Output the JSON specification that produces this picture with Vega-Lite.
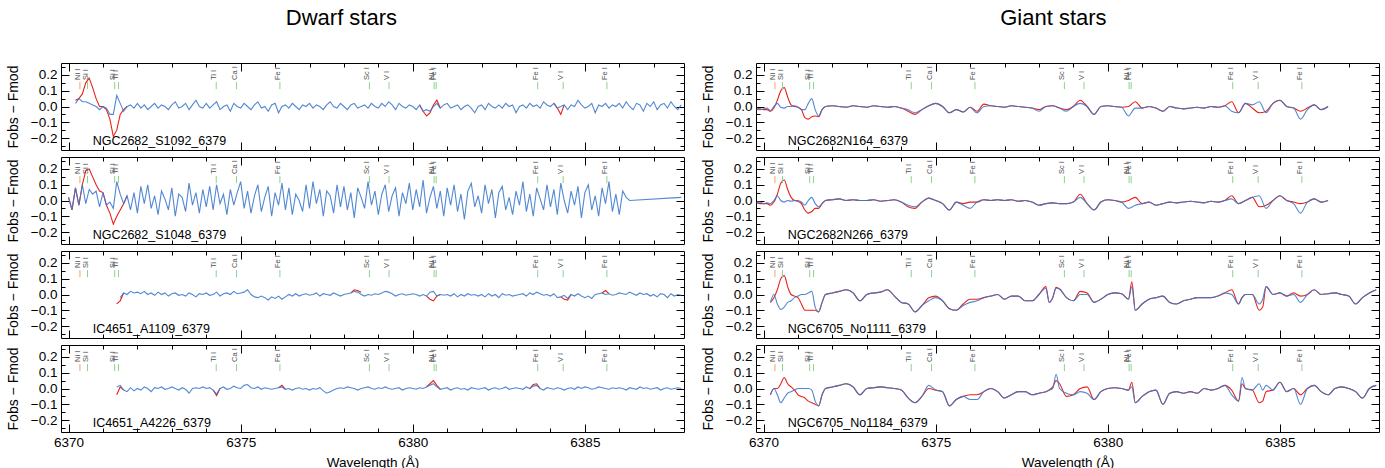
{
"$schema": "https://vega.github.io/schema/vega-lite/v6.json",
"padding": {"left": 5, "top": 6, "right": 5, "bottom": 2},
"datasets": {
"lines": [{"w":6370.33,"e":"Ni I","k":"o"},{"w":6370.55,"e":"Si I","k":"g"},{"w":6371.34,"e":"Si I","k":"g"},{"w":6371.45,"e":"Ti I","k":"g"},{"w":6374.29,"e":"Ti I","k":"g"},{"w":6374.88,"e":"Ca I","k":"g"},{"w":6376.14,"e":"Fe I","k":"g"},{"w":6378.74,"e":"Sc I","k":"g"},{"w":6379.31,"e":"V I","k":"g"},{"w":6380.62,"e":"Ni I","k":"g"},{"w":6380.68,"e":"Fe I","k":"g"},{"w":6383.63,"e":"Fe I","k":"g"},{"w":6384.37,"e":"V I","k":"g"},{"w":6385.64,"e":"Fe I","k":"g"}],
"spec": [
{"p":"D1","c":"r","s":1,"w":[6370.2,6370.3,6370.4,6370.5,6370.6,6370.7,6370.8,6370.9,6371,6371.1,6371.2,6371.3,6371.4,6371.5,6371.6,6371.7],"v":[0.04,0.05,0.08,0.15,0.18,0.12,0.05,0.0,0.0,-0.02,-0.08,-0.19,-0.15,-0.05,-0.02,0.0]},
{"p":"D1","c":"r","s":2,"w":[6380.2,6380.3,6380.4,6380.5,6380.6,6380.7,6380.8],"v":[0.01,-0.03,-0.06,-0.04,0.01,0.04,-0.01]},
{"p":"D1","c":"r","s":3,"w":[6384.1,6384.2,6384.3,6384.4],"v":[0.02,-0.01,-0.05,0.01]},
{"p":"D1","c":"b","s":0,
"w":[6370.2,6370.3,6370.4,6370.5,6370.6,6370.7,6370.8,6370.9,
6371,6371.1,6371.2,6371.3,6371.4,6371.5,6371.6,6371.7,6371.8,6371.9,
6372,6372.1,6372.2,6372.3,6372.4,6372.5,6372.6,6372.7,6372.8,6372.9,
6373,6373.1,6373.2,6373.3,6373.4,6373.5,6373.6,6373.7,6373.8,6373.9,
6374,6374.1,6374.2,6374.3,6374.4,6374.5,6374.6,6374.7,6374.8,6374.9,
6375,6375.1,6375.2,6375.3,6375.4,6375.5,6375.6,6375.7,6375.8,6375.9,
6376,6376.1,6376.2,6376.3,6376.4,6376.5,6376.6,6376.7,6376.8,6376.9,
6377,6377.1,6377.2,6377.3,6377.4,6377.5,6377.6,6377.7,6377.8,6377.9,
6378,6378.1,6378.2,6378.3,6378.4,6378.5,6378.6,6378.7,6378.8,6378.9,
6379,6379.1,6379.2,6379.3,6379.4,6379.5,6379.6,6379.7,6379.8,6379.9,
6380,6380.1,6380.2,6380.3,6380.4,6380.5,6380.6,6380.7,6380.8,6380.9,
6381,6381.1,6381.2,6381.3,6381.4,6381.5,6381.6,6381.7,6381.8,6381.9,
6382,6382.1,6382.2,6382.3,6382.4,6382.5,6382.6,6382.7,6382.8,6382.9,
6383,6383.1,6383.2,6383.3,6383.4,6383.5,6383.6,6383.7,6383.8,6383.9,
6384,6384.1,6384.2,6384.3,6384.4,6384.5,6384.6,6384.7,6384.8,6384.9,
6385,6385.1,6385.2,6385.3,6385.4,6385.5,6385.6,6385.7,6385.8,6385.9,
6386,6386.1,6386.2,6386.3,6386.4,6386.5,6386.6,6386.7,6386.8,6386.9,
6387,6387.1,6387.2,6387.3,6387.4,6387.5,6387.6,6387.7,6387.8],
"v":[0.02,0.05,0.03,0.03,0.02,0.01,0.0,-0.02,
0.0,-0.01,-0.05,-0.05,0.07,0.02,-0.03,0.0,0.01,-0.01,
0.02,-0.01,0.01,-0.02,0.0,0.02,-0.01,0.01,0.0,-0.02,
0.01,0.03,-0.01,0.0,0.02,-0.02,0.01,0.04,0.0,-0.01,
0.02,-0.01,0.01,0.03,-0.02,0.0,0.01,-0.03,0.02,0.0,
-0.01,0.02,0.0,-0.02,0.01,0.03,-0.01,0.0,-0.03,0.01,
0.02,-0.04,0.0,0.01,-0.01,0.02,0.0,-0.02,0.01,0.0,
0.02,-0.01,0.01,0.0,-0.02,0.01,0.03,0.0,-0.01,0.02,
0.0,-0.02,0.01,0.02,-0.01,0.0,0.01,-0.01,0.02,0.0,
-0.01,0.02,0.0,0.03,0.01,-0.02,0.02,0.0,-0.01,0.01,
0.0,-0.02,0.01,-0.03,-0.02,-0.03,0.0,0.02,-0.01,0.01,
0.02,-0.01,0.0,0.01,-0.02,0.0,0.01,-0.01,-0.04,0.0,
0.01,-0.02,0.02,0.0,-0.01,0.01,-0.01,0.02,0.0,0.01,
-0.04,0.0,0.01,-0.01,0.02,0.0,0.01,-0.01,0.03,0.01,
0.0,0.02,-0.01,0.0,0.01,-0.02,0.01,0.0,0.04,0.01,
-0.01,0.0,0.02,-0.04,0.01,0.0,0.02,-0.01,0.01,0.0,
0.02,-0.01,0.03,0.0,-0.02,0.02,0.01,-0.03,0.02,0.0,
0.03,-0.02,0.01,0.02,-0.01,0.03,0.0,-0.02,0.01]},
{"p":"D2","c":"r","s":1,"w":[6370,6370.1,6370.2,6370.3,6370.4,6370.5,6370.6,6370.7,6370.8,6370.9,6371,6371.1,6371.2,6371.3,6371.4,6371.5,6371.6,6371.7],"v":[0.02,-0.06,0.08,-0.03,0.1,0.19,0.2,0.15,0.1,0.06,0.05,-0.03,-0.08,-0.15,-0.1,-0.06,-0.02,0.03]},
{"p":"D2","c":"b","s":0,
"w":[6370,6370.1,6370.2,6370.3,6370.4,6370.5,6370.6,6370.7,6370.8,6370.9,
6371,6371.1,6371.2,6371.3,6371.4,6371.5,6371.6,6371.7,6371.8,6371.9,
6372,6372.1,6372.2,6372.3,6372.4,6372.5,6372.6,6372.7,6372.8,6372.9,
6373,6373.1,6373.2,6373.3,6373.4,6373.5,6373.6,6373.7,6373.8,6373.9,
6374,6374.1,6374.2,6374.3,6374.4,6374.5,6374.6,6374.7,6374.8,6374.9,
6375,6375.1,6375.2,6375.3,6375.4,6375.5,6375.6,6375.7,6375.8,6375.9,
6376,6376.1,6376.2,6376.3,6376.4,6376.5,6376.6,6376.7,6376.8,6376.9,
6377,6377.1,6377.2,6377.3,6377.4,6377.5,6377.6,6377.7,6377.8,6377.9,
6378,6378.1,6378.2,6378.3,6378.4,6378.5,6378.6,6378.7,6378.8,6378.9,
6379,6379.1,6379.2,6379.3,6379.4,6379.5,6379.6,6379.7,6379.8,6379.9,
6380,6380.1,6380.2,6380.3,6380.4,6380.5,6380.6,6380.7,6380.8,6380.9,
6381,6381.1,6381.2,6381.3,6381.4,6381.5,6381.6,6381.7,6381.8,6381.9,
6382,6382.1,6382.2,6382.3,6382.4,6382.5,6382.6,6382.7,6382.8,6382.9,
6383,6383.1,6383.2,6383.3,6383.4,6383.5,6383.6,6383.7,6383.8,6383.9,
6384,6384.1,6384.2,6384.3,6384.4,6384.5,6384.6,6384.7,6384.8,6384.9,
6385,6385.1,6385.2,6385.3,6385.4,6385.5,6385.6,6385.7,6385.8,6385.9,
6386,6386.1,6386.2,6386.3,6387.8],
"v":[0.02,-0.06,0.08,-0.03,0.1,-0.02,0.07,0.04,0.06,-0.04,
0.05,-0.03,-0.01,-0.05,0.12,0.04,-0.02,0.03,-0.06,0.05,
-0.08,0.09,-0.02,0.1,-0.05,0.03,-0.09,0.06,0.01,-0.06,
0.08,-0.1,0.04,0.02,-0.07,0.11,-0.03,0.05,-0.08,0.07,
-0.04,0.09,-0.06,0.1,-0.02,0.04,-0.09,0.07,-0.03,0.05,
0.12,-0.05,0.06,-0.08,0.03,0.1,-0.07,0.02,0.09,-0.1,
0.05,-0.03,0.11,-0.06,0.08,-0.09,0.04,0.0,-0.07,0.1,
-0.05,0.12,-0.02,0.07,-0.1,0.06,0.03,-0.08,0.1,-0.04,
0.09,-0.06,0.05,-0.11,0.08,0.02,-0.05,0.12,-0.03,0.06,
-0.09,0.04,0.1,-0.07,0.03,0.08,-0.1,0.05,-0.02,0.11,
-0.06,0.07,-0.04,0.13,-0.08,0.02,0.09,-0.05,0.06,-0.1,
0.08,-0.03,0.1,-0.07,0.04,-0.12,0.06,0.11,-0.04,0.03,
-0.08,0.1,-0.02,0.07,-0.11,0.05,0.09,-0.06,0.02,-0.09,
0.06,-0.03,0.12,-0.07,0.04,-0.1,0.08,0.01,-0.06,0.1,
-0.04,0.07,-0.09,0.11,0.0,-0.08,0.06,-0.03,0.09,-0.11,
0.05,0.1,-0.06,0.03,-0.1,0.08,-0.02,0.12,-0.07,0.04,
-0.09,0.06,0.02,0.0,0.02]},
{"p":"D3","c":"r","s":1,"w":[6371.4,6371.5,6371.6],"v":[-0.06,-0.04,0.01]},
{"p":"D3","c":"r","s":2,"w":[6378.2,6378.3,6378.4,6378.5],"v":[0.01,0.03,0.025,0.015]},
{"p":"D3","c":"r","s":3,"w":[6380.4,6380.5,6380.6,6380.7,6380.8],"v":[-0.01,-0.03,-0.04,-0.01,0.0]},
{"p":"D3","c":"r","s":4,"w":[6384.3,6384.4,6384.5,6384.6],"v":[-0.015,-0.03,-0.035,0.0]},
{"p":"D3","c":"r","s":5,"w":[6385.5,6385.6,6385.7],"v":[0.01,0.025,0.005]},
{"p":"D3","c":"b","s":0,
"w":[6371.5,6371.6,6371.7,6371.8,6371.9,
6372,6372.1,6372.2,6372.3,6372.4,6372.5,6372.6,6372.7,6372.8,6372.9,
6373,6373.1,6373.2,6373.3,6373.4,6373.5,6373.6,6373.7,6373.8,6373.9,
6374,6374.1,6374.2,6374.3,6374.4,6374.5,6374.6,6374.7,6374.8,6374.9,
6375,6375.1,6375.2,6375.3,6375.4,6375.5,6375.6,6375.7,6375.8,6375.9,
6376,6376.1,6376.2,6376.3,6376.4,6376.5,6376.6,6376.7,6376.8,6376.9,
6377,6377.1,6377.2,6377.3,6377.4,6377.5,6377.6,6377.7,6377.8,6377.9,
6378,6378.1,6378.2,6378.3,6378.4,6378.5,6378.6,6378.7,6378.8,6378.9,
6379,6379.1,6379.2,6379.3,6379.4,6379.5,6379.6,6379.7,6379.8,6379.9,
6380,6380.1,6380.2,6380.3,6380.4,6380.5,6380.6,6380.7,6380.8,6380.9,
6381,6381.1,6381.2,6381.3,6381.4,6381.5,6381.6,6381.7,6381.8,6381.9,
6382,6382.1,6382.2,6382.3,6382.4,6382.5,6382.6,6382.7,6382.8,6382.9,
6383,6383.1,6383.2,6383.3,6383.4,6383.5,6383.6,6383.7,6383.8,6383.9,
6384,6384.1,6384.2,6384.3,6384.4,6384.5,6384.6,6384.7,6384.8,6384.9,
6385,6385.1,6385.2,6385.3,6385.4,6385.5,6385.6,6385.7,6385.8,6385.9,
6386,6386.1,6386.2,6386.3,6386.4,6386.5,6386.6,6386.7,6386.8,6386.9,
6387,6387.1,6387.2,6387.3,6387.4,6387.5,6387.6,6387.7,6387.8],
"v":[-0.02,0.01,0.0,0.02,0.01,
0.015,0.005,0.02,0.0,0.01,-0.005,0.015,0.0,0.01,-0.01,
0.005,0.01,-0.005,0.0,-0.01,0.01,0.0,-0.015,0.005,0.0,
0.01,-0.005,0.0,0.015,-0.01,0.005,0.01,0.0,0.02,0.005,
0.01,0.015,0.03,0.0,-0.015,-0.02,-0.01,-0.02,-0.035,-0.015,
-0.025,-0.01,-0.03,-0.015,0.0,-0.01,0.005,-0.01,0.0,0.005,
-0.005,0.0,0.01,-0.01,0.005,0.0,-0.005,0.01,0.0,-0.01,
0.0,0.005,0.01,0.02,0.015,0.0,-0.01,0.0,-0.005,0.005,
0.0,0.01,0.02,0.015,0.005,-0.01,0.0,0.005,-0.005,0.0,
0.005,0.0,-0.01,0.0,-0.01,0.015,0.02,-0.01,0.0,-0.005,
0.0,-0.01,0.005,-0.015,0.0,-0.01,0.005,-0.005,0.0,-0.01,
0.0,-0.015,0.005,-0.01,0.0,-0.02,0.005,-0.005,0.0,-0.01,
-0.005,0.0,0.005,-0.01,0.01,0.0,0.015,0.005,-0.005,0.0,
-0.01,0.005,-0.02,-0.015,-0.005,-0.025,0.0,-0.01,0.005,-0.01,
-0.02,-0.01,-0.025,0.0,0.005,0.01,0.0,0.005,-0.005,0.0,
0.01,0.005,0.0,0.015,0.005,-0.005,0.01,0.0,0.005,-0.01,
0.0,-0.015,0.005,0.0,-0.02,0.005,-0.01,0.0,-0.005]},
{"p":"D4","c":"r","s":1,"w":[6371.4,6371.5,6371.6],"v":[-0.04,0.01,-0.01]},
{"p":"D4","c":"r","s":2,"w":[6374.2,6374.3,6374.4],"v":[-0.01,-0.045,0.0]},
{"p":"D4","c":"r","s":3,"w":[6376.1,6376.2,6376.3],"v":[0.005,0.02,-0.005]},
{"p":"D4","c":"r","s":4,"w":[6380.4,6380.5,6380.6,6380.7,6380.8],"v":[0.01,0.03,0.05,0.02,-0.005]},
{"p":"D4","c":"r","s":5,"w":[6383.4,6383.5,6383.6,6383.7],"v":[0.0,0.025,0.03,0.0]},
{"p":"D4","c":"b","s":0,
"w":[6371.4,6371.5,6371.6,6371.7,6371.8,6371.9,
6372,6372.1,6372.2,6372.3,6372.4,6372.5,6372.6,6372.7,6372.8,6372.9,
6373,6373.1,6373.2,6373.3,6373.4,6373.5,6373.6,6373.7,6373.8,6373.9,
6374,6374.1,6374.2,6374.3,6374.4,6374.5,6374.6,6374.7,6374.8,6374.9,
6375,6375.1,6375.2,6375.3,6375.4,6375.5,6375.6,6375.7,6375.8,6375.9,
6376,6376.1,6376.2,6376.3,6376.4,6376.5,6376.6,6376.7,6376.8,6376.9,
6377,6377.1,6377.2,6377.3,6377.4,6377.5,6377.6,6377.7,6377.8,6377.9,
6378,6378.1,6378.2,6378.3,6378.4,6378.5,6378.6,6378.7,6378.8,6378.9,
6379,6379.1,6379.2,6379.3,6379.4,6379.5,6379.6,6379.7,6379.8,6379.9,
6380,6380.1,6380.2,6380.3,6380.4,6380.5,6380.6,6380.7,6380.8,6380.9,
6381,6381.1,6381.2,6381.3,6381.4,6381.5,6381.6,6381.7,6381.8,6381.9,
6382,6382.1,6382.2,6382.3,6382.4,6382.5,6382.6,6382.7,6382.8,6382.9,
6383,6383.1,6383.2,6383.3,6383.4,6383.5,6383.6,6383.7,6383.8,6383.9,
6384,6384.1,6384.2,6384.3,6384.4,6384.5,6384.6,6384.7,6384.8,6384.9,
6385,6385.1,6385.2,6385.3,6385.4,6385.5,6385.6,6385.7,6385.8,6385.9,
6386,6386.1,6386.2,6386.3,6386.4,6386.5,6386.6,6386.7,6386.8,6386.9,
6387,6387.1,6387.2,6387.3,6387.4,6387.5,6387.6,6387.7,6387.8],
"v":[0.01,0.02,-0.01,-0.02,0.005,-0.015,
0.0,-0.01,0.01,0.0,-0.02,0.005,0.0,0.01,-0.005,0.0,
0.01,0.0,-0.01,0.005,-0.005,-0.03,0.0,0.005,0.0,0.01,
0.0,0.005,-0.01,-0.035,0.0,0.01,-0.005,0.0,0.015,0.005,
0.0,0.02,0.025,0.005,0.0,0.01,-0.005,0.005,0.0,-0.005,
0.0,0.005,0.01,-0.005,0.0,-0.01,0.0,0.005,-0.005,0.0,
-0.01,0.0,-0.005,0.005,-0.015,-0.03,-0.02,-0.01,0.0,0.005,
0.0,0.01,0.005,0.0,-0.01,0.0,0.005,0.01,0.0,-0.005,
0.005,0.0,0.01,0.0,-0.005,0.0,0.005,-0.01,0.0,0.005,
0.0,-0.005,0.005,0.0,0.01,0.02,0.03,0.01,-0.005,0.0,
0.005,-0.01,0.0,0.005,-0.005,0.0,-0.01,0.005,0.0,-0.005,
0.0,0.005,-0.01,0.0,0.005,-0.005,0.0,0.01,-0.005,0.0,
0.005,0.0,-0.005,0.01,0.0,0.015,0.02,0.0,-0.01,0.005,
0.0,-0.005,0.005,0.0,-0.01,0.0,0.005,-0.005,0.01,0.0,
0.01,0.005,-0.005,0.0,0.01,0.005,0.0,-0.005,0.005,0.0,
0.005,0.0,-0.01,0.005,0.0,-0.005,0.01,0.0,0.005,-0.005,
0.0,0.005,-0.01,0.0,0.005,-0.005,0.0,0.005,0.0]},
{"p":"G1","c":"r","s":0,
"w":[6369.8,6369.9,6370,6370.1,6370.2,6370.3,6370.4,6370.5,6370.6,6370.7,6370.8,6370.9,6371,6371.1,6371.2,6371.3,6371.4,6371.5,6371.6,6371.7,6371.8,
6372,6372.2,6372.4,6372.6,6372.8,6373,6373.2,6373.4,6373.6,6373.8,6374,6374.2,6374.4,6374.6,6374.8,6375,6375.2,6375.4,6375.6,6375.8,6376,6376.2,6376.4,6376.6,6376.8,6377,6377.2,6377.4,6377.6,6377.8,6378,6378.2,6378.4,6378.6,6378.8,6379,6379.2,6379.4,6379.6,6379.8,6380,6380.2,6380.4,6380.6,6380.8,6381,6381.2,6381.4,6381.6,6381.8,6382,6382.2,6382.4,6382.6,6382.8,6383,6383.2,6383.4,6383.6,6383.8,6384,6384.2,6384.4,6384.6,6384.8,6385,6385.2,6385.4,6385.6,6385.8,6386,6386.2,6386.4],
"v":[-0.01,-0.015,-0.02,-0.02,-0.03,-0.01,0.04,0.1,0.12,0.06,0.01,0.0,-0.005,-0.02,-0.07,-0.08,-0.065,-0.06,-0.065,-0.02,0.0,
0.005,0.0,-0.005,0.005,0.0,
-0.005,0.005,0.0,-0.005,0.0,
-0.01,-0.03,-0.05,-0.02,0.005,
0.02,0.0,-0.04,-0.02,-0.035,
-0.005,-0.03,0.015,0.005,0.0,
-0.005,0.005,0.0,-0.005,-0.01,
-0.02,0.0,0.005,-0.01,-0.02,
0.0,0.04,0.0,-0.05,0.0,
0.005,0.0,-0.005,0.0,0.03,
-0.01,0.0,-0.01,-0.03,0.0,
-0.01,-0.015,-0.01,-0.005,-0.01,
0.0,-0.005,0.005,0.03,-0.04,
0.02,-0.01,-0.04,-0.03,0.02,
0.04,0.0,-0.01,-0.03,-0.01,
0.01,-0.02,0.0]},
{"p":"G1","c":"b","s":0,
"w":[6369.8,6369.9,6370,6370.1,6370.2,6370.3,6370.4,6370.5,6370.6,6370.7,6370.8,6370.9,6371,6371.1,6371.2,6371.3,6371.4,6371.5,6371.6,6371.7,6371.8,
6372,6372.2,6372.4,6372.6,6372.8,6373,6373.2,6373.4,6373.6,6373.8,6374,6374.2,6374.4,6374.6,6374.8,6375,6375.2,6375.4,6375.6,6375.8,6376,6376.2,6376.4,6376.6,6376.8,6377,6377.2,6377.4,6377.6,6377.8,6378,6378.2,6378.4,6378.6,6378.8,6379,6379.2,6379.4,6379.6,6379.8,6380,6380.2,6380.4,6380.6,6380.8,6381,6381.2,6381.4,6381.6,6381.8,6382,6382.2,6382.4,6382.6,6382.8,6383,6383.2,6383.4,6383.6,6383.8,6384,6384.2,6384.4,6384.6,6384.8,6385,6385.2,6385.4,6385.6,6385.8,6386,6386.2,6386.4],
"v":[-0.02,-0.02,-0.015,-0.01,-0.025,0.0,0.02,-0.005,-0.01,0.0,0.0,0.005,-0.005,-0.02,-0.02,0.02,0.05,-0.02,-0.06,-0.02,0.0,
0.005,0.0,-0.005,0.005,0.0,
-0.005,0.005,0.0,-0.005,0.0,
-0.01,-0.02,-0.04,-0.02,0.005,
0.02,0.0,-0.04,-0.02,-0.035,
-0.005,-0.04,0.0,0.005,0.0,
-0.005,0.005,0.0,-0.005,-0.01,
-0.03,0.0,0.005,-0.01,-0.03,
0.0,0.02,0.0,-0.05,0.0,
0.005,0.0,-0.005,-0.06,-0.01,
-0.01,0.0,-0.01,-0.03,0.0,
-0.01,-0.015,-0.01,-0.005,-0.01,
0.0,-0.005,0.005,-0.03,-0.04,
0.02,0.01,0.03,-0.04,0.02,
0.04,0.0,-0.01,-0.08,-0.02,
0.01,-0.02,0.0]},
{"p":"G2","c":"r","s":0,
"w":[6369.8,6369.9,6370,6370.1,6370.2,6370.3,6370.4,6370.5,6370.6,6370.7,6370.8,6370.9,6371,6371.1,6371.2,6371.3,6371.4,6371.5,6371.6,6371.7,6371.8,
6372,6372.2,6372.4,6372.6,6372.8,6373,6373.2,6373.4,6373.6,6373.8,6374,6374.2,6374.4,6374.6,6374.8,6375,6375.2,6375.4,6375.6,6375.8,6376,6376.2,6376.4,6376.6,6376.8,6377,6377.2,6377.4,6377.6,6377.8,6378,6378.2,6378.4,6378.6,6378.8,6379,6379.2,6379.4,6379.6,6379.8,6380,6380.2,6380.4,6380.6,6380.8,6381,6381.2,6381.4,6381.6,6381.8,6382,6382.2,6382.4,6382.6,6382.8,6383,6383.2,6383.4,6383.6,6383.8,6384,6384.2,6384.4,6384.6,6384.8,6385,6385.2,6385.4,6385.6,6385.8,6386,6386.2,6386.4],
"v":[-0.015,-0.02,-0.02,-0.02,-0.03,-0.01,0.04,0.11,0.13,0.07,0.02,0.0,-0.005,-0.02,-0.06,-0.08,-0.07,-0.05,-0.05,-0.02,0.0,
0.005,0.01,0.0,0.005,0.0,
0.0,0.005,-0.005,0.0,0.005,
-0.01,-0.04,-0.05,-0.01,0.015,
0.0,-0.02,-0.06,-0.01,-0.02,
-0.01,-0.01,0.005,0.0,0.005,
0.0,0.005,-0.005,0.0,-0.01,
-0.03,-0.02,-0.015,-0.02,-0.02,
-0.01,0.04,-0.02,-0.06,-0.01,
0.005,0.0,-0.01,0.0,0.02,
-0.02,-0.01,-0.03,-0.02,-0.01,
-0.015,-0.01,-0.005,-0.01,-0.015,
-0.005,-0.01,0.0,0.03,-0.02,
0.0,0.02,-0.04,-0.03,0.0,
0.03,0.0,-0.01,-0.02,-0.01,
0.01,-0.01,0.0]},
{"p":"G2","c":"b","s":0,
"w":[6369.8,6369.9,6370,6370.1,6370.2,6370.3,6370.4,6370.5,6370.6,6370.7,6370.8,6370.9,6371,6371.1,6371.2,6371.3,6371.4,6371.5,6371.6,6371.7,6371.8,
6372,6372.2,6372.4,6372.6,6372.8,6373,6373.2,6373.4,6373.6,6373.8,6374,6374.2,6374.4,6374.6,6374.8,6375,6375.2,6375.4,6375.6,6375.8,6376,6376.2,6376.4,6376.6,6376.8,6377,6377.2,6377.4,6377.6,6377.8,6378,6378.2,6378.4,6378.6,6378.8,6379,6379.2,6379.4,6379.6,6379.8,6380,6380.2,6380.4,6380.6,6380.8,6381,6381.2,6381.4,6381.6,6381.8,6382,6382.2,6382.4,6382.6,6382.8,6383,6383.2,6383.4,6383.6,6383.8,6384,6384.2,6384.4,6384.6,6384.8,6385,6385.2,6385.4,6385.6,6385.8,6386,6386.2,6386.4],
"v":[-0.01,-0.01,-0.02,-0.015,-0.02,0.0,0.03,0.0,-0.01,0.0,-0.005,0.0,0.0,-0.01,-0.03,0.0,0.02,-0.02,-0.04,-0.02,0.0,
0.005,0.01,0.0,0.005,0.0,
0.0,0.005,-0.005,0.0,0.005,
-0.01,-0.03,-0.04,-0.01,0.015,
0.0,-0.02,-0.06,-0.01,-0.03,
-0.05,-0.01,0.005,0.0,0.005,
0.0,0.005,-0.005,0.0,-0.01,
-0.03,-0.02,-0.015,-0.02,-0.02,
-0.01,0.02,-0.02,-0.06,-0.01,
0.005,0.0,-0.01,-0.05,-0.03,
-0.02,-0.01,-0.03,-0.02,-0.01,
-0.015,-0.01,-0.005,-0.01,-0.015,
-0.005,-0.01,0.0,0.01,-0.02,
0.0,0.02,0.03,-0.05,0.0,
0.03,0.0,-0.02,-0.08,-0.01,
0.01,-0.01,0.0]},
{"p":"G3","c":"r","s":0,
"w":[6370.2,6370.3,6370.4,6370.5,6370.6,6370.7,6370.8,6370.9,6371,6371.1,6371.2,6371.3,6371.4,6371.5,6371.6,6371.7,6371.8,
6372,6372.2,6372.4,6372.6,6372.8,6373,6373.2,6373.4,6373.6,6373.8,6374,6374.2,6374.4,6374.6,6374.8,6375,6375.2,6375.4,6375.6,6375.8,6376,6376.2,6376.4,6376.6,6376.8,6377,6377.2,6377.4,6377.6,6377.8,
6378,6378.2,6378.3,6378.4,6378.5,6378.6,6378.8,6379,6379.2,6379.4,6379.6,6379.8,6380,6380.2,6380.4,6380.6,6380.7,6380.8,6381,6381.2,6381.4,6381.6,6381.8,6382,6382.2,6382.4,6382.6,6382.8,
6383,6383.2,6383.4,6383.6,6383.8,6383.9,6384,6384.2,6384.4,6384.5,6384.6,6384.8,6385,6385.2,6385.4,6385.6,6385.8,6386,6386.2,6386.4,6386.6,6386.8,6387,6387.2,6387.4,6387.6,6387.8],
"v":[-0.05,-0.02,0.03,0.1,0.12,0.05,0.0,-0.01,-0.02,-0.06,-0.1,-0.1,-0.1,-0.1,-0.11,-0.05,0.0,
0.01,0.02,0.03,0.01,-0.04,
0.0,0.01,0.015,0.03,-0.01,
-0.05,-0.06,-0.11,-0.07,-0.02,
-0.01,-0.04,-0.09,-0.1,-0.06,
-0.03,-0.03,-0.02,-0.01,0.0,
-0.03,-0.01,-0.01,-0.04,-0.04,
0.0,0.05,-0.05,-0.02,0.045,0.035,-0.02,
-0.04,0.02,0.01,-0.05,-0.03,
0.0,0.01,0.005,-0.03,0.08,-0.1,
-0.06,-0.03,-0.02,-0.01,-0.05,
-0.06,-0.04,-0.03,-0.02,-0.02,
-0.02,-0.01,0.01,0.03,-0.06,-0.02,
0.0,0.0,-0.1,-0.08,0.05,0.0,
0.01,-0.01,0.01,-0.01,0.0,
0.03,0.0,0.005,0.01,0.0,
-0.01,-0.06,-0.02,0.01,0.03]},
{"p":"G3","c":"b","s":0,
"w":[6370.2,6370.3,6370.4,6370.5,6370.6,6370.7,6370.8,6370.9,6371,6371.1,6371.2,6371.3,6371.4,6371.5,6371.6,6371.7,6371.8,
6372,6372.2,6372.4,6372.6,6372.8,6373,6373.2,6373.4,6373.6,6373.8,6374,6374.2,6374.4,6374.6,6374.8,6375,6375.2,6375.4,6375.6,6375.8,6376,6376.2,6376.4,6376.6,6376.8,6377,6377.2,6377.4,6377.6,6377.8,
6378,6378.2,6378.3,6378.4,6378.5,6378.6,6378.8,6379,6379.2,6379.4,6379.6,6379.8,6380,6380.2,6380.4,6380.6,6380.7,6380.8,6381,6381.2,6381.4,6381.6,6381.8,6382,6382.2,6382.4,6382.6,6382.8,
6383,6383.2,6383.4,6383.6,6383.8,6383.9,6384,6384.2,6384.4,6384.5,6384.6,6384.8,6385,6385.2,6385.4,6385.6,6385.8,6386,6386.2,6386.4,6386.6,6386.8,6387,6387.2,6387.4,6387.6,6387.8],
"v":[-0.05,0.0,-0.06,-0.095,-0.08,-0.05,-0.04,-0.02,-0.01,0.0,0.0,0.01,0.02,-0.08,-0.11,-0.05,0.0,
0.01,0.02,0.03,0.01,-0.04,
0.0,0.01,0.015,0.03,-0.01,
-0.05,-0.06,-0.11,-0.07,-0.04,
-0.02,-0.04,-0.09,-0.1,-0.07,
-0.05,-0.04,-0.02,-0.01,0.0,
-0.03,-0.01,-0.01,-0.04,-0.04,
0.0,0.04,-0.05,-0.02,0.04,0.035,-0.02,
-0.04,0.0,0.0,-0.05,-0.03,
0.0,0.01,0.005,-0.03,0.05,-0.1,
-0.06,-0.03,-0.02,-0.01,-0.05,
-0.06,-0.04,-0.03,-0.02,-0.02,
-0.02,-0.01,0.01,0.0,-0.06,-0.02,
0.0,0.0,-0.06,-0.03,0.05,0.0,
0.01,-0.01,0.0,-0.05,0.0,
0.03,0.0,0.005,0.01,0.0,
-0.01,-0.06,-0.02,0.01,0.03]},
{"p":"G4","c":"r","s":0,
"w":[6370.2,6370.3,6370.4,6370.5,6370.6,6370.7,6370.8,6370.9,6371,6371.1,6371.2,6371.3,6371.4,6371.5,6371.6,6371.7,6371.8,
6372,6372.2,6372.4,6372.6,6372.8,6373,6373.2,6373.4,6373.6,6373.8,6374,6374.2,6374.4,6374.6,6374.8,6375,6375.2,6375.4,6375.6,6375.8,6376,6376.2,6376.4,6376.6,6376.8,6377,6377.2,6377.4,6377.6,6377.8,
6378,6378.2,6378.3,6378.4,6378.5,6378.6,6378.8,6379,6379.2,6379.4,6379.6,6379.8,6380,6380.2,6380.4,6380.6,6380.7,6380.8,6381,6381.2,6381.4,6381.6,6381.8,6382,6382.2,6382.4,6382.6,6382.8,
6383,6383.2,6383.4,6383.6,6383.8,6383.9,6384,6384.2,6384.4,6384.5,6384.6,6384.8,6385,6385.2,6385.4,6385.6,6385.8,6386,6386.2,6386.4,6386.6,6386.8,6387,6387.2,6387.4,6387.6,6387.8],
"v":[-0.04,0.0,0.0,0.03,0.07,0.03,0.01,-0.01,-0.04,-0.05,-0.06,-0.08,-0.09,-0.1,-0.11,-0.04,0.0,
0.01,0.02,0.03,0.01,-0.04,
0.0,0.005,0.01,0.005,0.0,
-0.01,-0.06,-0.09,-0.05,0.0,
-0.01,-0.02,-0.11,-0.07,-0.05,
-0.04,-0.04,-0.02,0.0,-0.02,
-0.06,-0.04,-0.02,-0.02,-0.04,
-0.03,-0.02,-0.01,0.01,0.05,0.03,-0.05,
-0.04,0.0,0.01,-0.07,-0.02,
0.0,0.005,0.0,-0.01,0.04,-0.09,
-0.05,-0.02,-0.01,-0.1,-0.03,
-0.02,-0.03,-0.02,-0.03,0.0,
-0.01,0.0,0.02,-0.01,-0.08,0.03,
0.0,-0.01,-0.09,-0.08,-0.02,-0.01,
0.04,-0.02,0.0,-0.04,0.0,
0.02,-0.02,-0.04,0.0,0.01,
0.0,-0.02,-0.06,0.0,0.02]},
{"p":"G4","c":"b","s":0,
"w":[6370.2,6370.3,6370.4,6370.5,6370.6,6370.7,6370.8,6370.9,6371,6371.1,6371.2,6371.3,6371.4,6371.5,6371.6,6371.7,6371.8,
6372,6372.2,6372.4,6372.6,6372.8,6373,6373.2,6373.4,6373.6,6373.8,6374,6374.2,6374.4,6374.6,6374.8,6375,6375.2,6375.4,6375.6,6375.8,6376,6376.2,6376.4,6376.6,6376.8,6377,6377.2,6377.4,6377.6,6377.8,
6378,6378.2,6378.3,6378.4,6378.5,6378.6,6378.8,6379,6379.2,6379.4,6379.6,6379.8,6380,6380.2,6380.4,6380.6,6380.7,6380.8,6381,6381.2,6381.4,6381.6,6381.8,6382,6382.2,6382.4,6382.6,6382.8,
6383,6383.2,6383.4,6383.6,6383.8,6383.9,6384,6384.2,6384.4,6384.5,6384.6,6384.8,6385,6385.2,6385.4,6385.6,6385.8,6386,6386.2,6386.4,6386.6,6386.8,6387,6387.2,6387.4,6387.6,6387.8],
"v":[-0.04,0.0,-0.04,-0.09,-0.06,-0.03,-0.02,-0.01,0.0,0.0,0.0,0.0,-0.01,-0.08,-0.11,-0.04,0.0,
0.01,0.02,0.03,0.01,-0.04,
0.0,0.005,0.01,0.005,0.0,
-0.01,-0.06,-0.09,-0.05,0.02,
-0.01,-0.02,-0.11,-0.07,-0.05,
-0.07,-0.07,-0.02,0.0,-0.02,
-0.06,-0.04,-0.02,-0.02,-0.04,
-0.03,-0.02,-0.01,0.0,0.09,0.0,-0.03,
-0.04,-0.02,-0.03,-0.07,-0.02,
0.0,0.005,0.0,-0.01,0.01,-0.09,
-0.05,-0.02,-0.01,-0.1,-0.03,
-0.02,-0.03,-0.02,-0.03,0.0,
-0.01,0.0,0.02,-0.04,-0.08,0.07,
0.0,-0.01,0.03,-0.01,0.02,-0.01,
0.04,-0.02,0.0,-0.1,0.0,
0.02,-0.02,-0.04,0.0,0.01,
0.0,-0.02,-0.06,0.0,0.02]}
]
},
"spacing": 15,
"hconcat": [
{"title": {"text": "Dwarf stars", "dx": -4}, "spacing": 7, "bounds": "flush", "vconcat": [
{"width": 623, "height": 87, "resolve": {"axis": {"x": "independent", "y": "independent"}}, "layer": [
 {"mark": {"type": "rule", "color": "black", "strokeWidth": 1, "strokeDash": [5, 2, 1, 2]}, "encoding": {"y": {"datum": 0, "type": "quantitative", "scale": {"domain": [-0.276, 0.276]}, "axis": null}}},
 {"data": {"name": "spec"}, "transform": [{"filter": "datum.p == 'D1' && datum.c == 'r'"}, {"flatten": ["w", "v"]}], "mark": {"type": "line", "color": "#e8221c", "strokeWidth": 1.1, "clip": true}, "encoding": {"x": {"field": "w", "type": "quantitative", "scale": {"domain": [6369.78, 6387.88]}, "axis": {"labels": false, "title": null}}, "y": {"field": "v", "type": "quantitative", "scale": {"domain": [-0.276, 0.276]}, "axis": {"title": "Fobs − Fmod"}}, "detail": {"field": "s", "type": "nominal"}}},
 {"data": {"name": "spec"}, "transform": [{"filter": "datum.p == 'D1' && datum.c == 'b'"}, {"flatten": ["w", "v"]}], "mark": {"type": "line", "color": "#3a78cc", "strokeWidth": 1.1, "opacity": 0.88, "clip": true}, "encoding": {"x": {"field": "w", "type": "quantitative", "scale": {"domain": [6369.78, 6387.88]}, "axis": null}, "y": {"field": "v", "type": "quantitative", "scale": {"domain": [-0.276, 0.276]}, "axis": null}}},
 {"data": {"name": "lines"}, "mark": {"type": "rule", "strokeWidth": 1}, "encoding": {"x": {"field": "w", "type": "quantitative", "scale": {"domain": [6369.78, 6387.88]}, "axis": {"orient": "top", "labels": false, "title": null}}, "y": {"datum": 0.11, "type": "quantitative", "scale": {"domain": [-0.276, 0.276]}, "axis": null}, "y2": {"datum": 0.155}, "color": {"field": "k", "type": "nominal", "scale": {"domain": ["o", "g"], "range": ["#f4a460", "#8fd18f"]}, "legend": null}}},
 {"data": {"name": "lines"}, "mark": {"type": "text", "angle": 270, "align": "left", "baseline": "alphabetic", "fontSize": 7.5, "color": "#505050"}, "encoding": {"x": {"field": "w", "type": "quantitative", "scale": {"domain": [6369.78, 6387.88]}, "axis": null}, "y": {"datum": 0.168, "type": "quantitative", "scale": {"domain": [-0.276, 0.276]}, "axis": null}, "text": {"field": "e", "type": "nominal"}}},
 {"data": {"values": [{}]}, "mark": {"type": "text", "align": "left", "baseline": "middle", "fontSize": 12.5, "color": "black", "text": "NGC2682_S1092_6379"}, "encoding": {"x": {"datum": 6370.7, "type": "quantitative", "scale": {"domain": [6369.78, 6387.88]}, "axis": null}, "y": {"datum": -0.222, "type": "quantitative", "scale": {"domain": [-0.276, 0.276]}, "axis": {"orient": "right", "labels": false, "title": null}}}}
]},
{"width": 623, "height": 87, "resolve": {"axis": {"x": "independent", "y": "independent"}}, "layer": [
 {"mark": {"type": "rule", "color": "black", "strokeWidth": 1, "strokeDash": [5, 2, 1, 2]}, "encoding": {"y": {"datum": 0, "type": "quantitative", "scale": {"domain": [-0.276, 0.276]}, "axis": null}}},
 {"data": {"name": "spec"}, "transform": [{"filter": "datum.p == 'D2' && datum.c == 'r'"}, {"flatten": ["w", "v"]}], "mark": {"type": "line", "color": "#e8221c", "strokeWidth": 1.1, "clip": true}, "encoding": {"x": {"field": "w", "type": "quantitative", "scale": {"domain": [6369.78, 6387.88]}, "axis": {"labels": false, "title": null}}, "y": {"field": "v", "type": "quantitative", "scale": {"domain": [-0.276, 0.276]}, "axis": {"title": "Fobs − Fmod"}}, "detail": {"field": "s", "type": "nominal"}}},
 {"data": {"name": "spec"}, "transform": [{"filter": "datum.p == 'D2' && datum.c == 'b'"}, {"flatten": ["w", "v"]}], "mark": {"type": "line", "color": "#3a78cc", "strokeWidth": 1.1, "opacity": 0.88, "clip": true}, "encoding": {"x": {"field": "w", "type": "quantitative", "scale": {"domain": [6369.78, 6387.88]}, "axis": null}, "y": {"field": "v", "type": "quantitative", "scale": {"domain": [-0.276, 0.276]}, "axis": null}}},
 {"data": {"name": "lines"}, "mark": {"type": "rule", "strokeWidth": 1}, "encoding": {"x": {"field": "w", "type": "quantitative", "scale": {"domain": [6369.78, 6387.88]}, "axis": {"orient": "top", "labels": false, "title": null}}, "y": {"datum": 0.11, "type": "quantitative", "scale": {"domain": [-0.276, 0.276]}, "axis": null}, "y2": {"datum": 0.155}, "color": {"field": "k", "type": "nominal", "scale": {"domain": ["o", "g"], "range": ["#f4a460", "#8fd18f"]}, "legend": null}}},
 {"data": {"name": "lines"}, "mark": {"type": "text", "angle": 270, "align": "left", "baseline": "alphabetic", "fontSize": 7.5, "color": "#505050"}, "encoding": {"x": {"field": "w", "type": "quantitative", "scale": {"domain": [6369.78, 6387.88]}, "axis": null}, "y": {"datum": 0.168, "type": "quantitative", "scale": {"domain": [-0.276, 0.276]}, "axis": null}, "text": {"field": "e", "type": "nominal"}}},
 {"data": {"values": [{}]}, "mark": {"type": "text", "align": "left", "baseline": "middle", "fontSize": 12.5, "color": "black", "text": "NGC2682_S1048_6379"}, "encoding": {"x": {"datum": 6370.7, "type": "quantitative", "scale": {"domain": [6369.78, 6387.88]}, "axis": null}, "y": {"datum": -0.222, "type": "quantitative", "scale": {"domain": [-0.276, 0.276]}, "axis": {"orient": "right", "labels": false, "title": null}}}}
]},
{"width": 623, "height": 87, "resolve": {"axis": {"x": "independent", "y": "independent"}}, "layer": [
 {"mark": {"type": "rule", "color": "black", "strokeWidth": 1, "strokeDash": [5, 2, 1, 2]}, "encoding": {"y": {"datum": 0, "type": "quantitative", "scale": {"domain": [-0.276, 0.276]}, "axis": null}}},
 {"data": {"name": "spec"}, "transform": [{"filter": "datum.p == 'D3' && datum.c == 'r'"}, {"flatten": ["w", "v"]}], "mark": {"type": "line", "color": "#e8221c", "strokeWidth": 1.1, "clip": true}, "encoding": {"x": {"field": "w", "type": "quantitative", "scale": {"domain": [6369.78, 6387.88]}, "axis": {"labels": false, "title": null}}, "y": {"field": "v", "type": "quantitative", "scale": {"domain": [-0.276, 0.276]}, "axis": {"title": "Fobs − Fmod"}}, "detail": {"field": "s", "type": "nominal"}}},
 {"data": {"name": "spec"}, "transform": [{"filter": "datum.p == 'D3' && datum.c == 'b'"}, {"flatten": ["w", "v"]}], "mark": {"type": "line", "color": "#3a78cc", "strokeWidth": 1.1, "opacity": 0.88, "clip": true}, "encoding": {"x": {"field": "w", "type": "quantitative", "scale": {"domain": [6369.78, 6387.88]}, "axis": null}, "y": {"field": "v", "type": "quantitative", "scale": {"domain": [-0.276, 0.276]}, "axis": null}}},
 {"data": {"name": "lines"}, "mark": {"type": "rule", "strokeWidth": 1}, "encoding": {"x": {"field": "w", "type": "quantitative", "scale": {"domain": [6369.78, 6387.88]}, "axis": {"orient": "top", "labels": false, "title": null}}, "y": {"datum": 0.11, "type": "quantitative", "scale": {"domain": [-0.276, 0.276]}, "axis": null}, "y2": {"datum": 0.155}, "color": {"field": "k", "type": "nominal", "scale": {"domain": ["o", "g"], "range": ["#f4a460", "#8fd18f"]}, "legend": null}}},
 {"data": {"name": "lines"}, "mark": {"type": "text", "angle": 270, "align": "left", "baseline": "alphabetic", "fontSize": 7.5, "color": "#505050"}, "encoding": {"x": {"field": "w", "type": "quantitative", "scale": {"domain": [6369.78, 6387.88]}, "axis": null}, "y": {"datum": 0.168, "type": "quantitative", "scale": {"domain": [-0.276, 0.276]}, "axis": null}, "text": {"field": "e", "type": "nominal"}}},
 {"data": {"values": [{}]}, "mark": {"type": "text", "align": "left", "baseline": "middle", "fontSize": 12.5, "color": "black", "text": "IC4651_A1109_6379"}, "encoding": {"x": {"datum": 6370.7, "type": "quantitative", "scale": {"domain": [6369.78, 6387.88]}, "axis": null}, "y": {"datum": -0.222, "type": "quantitative", "scale": {"domain": [-0.276, 0.276]}, "axis": {"orient": "right", "labels": false, "title": null}}}}
]},
{"width": 623, "height": 87, "resolve": {"axis": {"x": "independent", "y": "independent"}}, "layer": [
 {"mark": {"type": "rule", "color": "black", "strokeWidth": 1, "strokeDash": [5, 2, 1, 2]}, "encoding": {"y": {"datum": 0, "type": "quantitative", "scale": {"domain": [-0.276, 0.276]}, "axis": null}}},
 {"data": {"name": "spec"}, "transform": [{"filter": "datum.p == 'D4' && datum.c == 'r'"}, {"flatten": ["w", "v"]}], "mark": {"type": "line", "color": "#e8221c", "strokeWidth": 1.1, "clip": true}, "encoding": {"x": {"field": "w", "type": "quantitative", "scale": {"domain": [6369.78, 6387.88]}, "axis": {"title": "Wavelength (Å)"}}, "y": {"field": "v", "type": "quantitative", "scale": {"domain": [-0.276, 0.276]}, "axis": {"title": "Fobs − Fmod"}}, "detail": {"field": "s", "type": "nominal"}}},
 {"data": {"name": "spec"}, "transform": [{"filter": "datum.p == 'D4' && datum.c == 'b'"}, {"flatten": ["w", "v"]}], "mark": {"type": "line", "color": "#3a78cc", "strokeWidth": 1.1, "opacity": 0.88, "clip": true}, "encoding": {"x": {"field": "w", "type": "quantitative", "scale": {"domain": [6369.78, 6387.88]}, "axis": null}, "y": {"field": "v", "type": "quantitative", "scale": {"domain": [-0.276, 0.276]}, "axis": null}}},
 {"data": {"name": "lines"}, "mark": {"type": "rule", "strokeWidth": 1}, "encoding": {"x": {"field": "w", "type": "quantitative", "scale": {"domain": [6369.78, 6387.88]}, "axis": {"orient": "top", "labels": false, "title": null}}, "y": {"datum": 0.11, "type": "quantitative", "scale": {"domain": [-0.276, 0.276]}, "axis": null}, "y2": {"datum": 0.155}, "color": {"field": "k", "type": "nominal", "scale": {"domain": ["o", "g"], "range": ["#f4a460", "#8fd18f"]}, "legend": null}}},
 {"data": {"name": "lines"}, "mark": {"type": "text", "angle": 270, "align": "left", "baseline": "alphabetic", "fontSize": 7.5, "color": "#505050"}, "encoding": {"x": {"field": "w", "type": "quantitative", "scale": {"domain": [6369.78, 6387.88]}, "axis": null}, "y": {"datum": 0.168, "type": "quantitative", "scale": {"domain": [-0.276, 0.276]}, "axis": null}, "text": {"field": "e", "type": "nominal"}}},
 {"data": {"values": [{}]}, "mark": {"type": "text", "align": "left", "baseline": "middle", "fontSize": 12.5, "color": "black", "text": "IC4651_A4226_6379"}, "encoding": {"x": {"datum": 6370.7, "type": "quantitative", "scale": {"domain": [6369.78, 6387.88]}, "axis": null}, "y": {"datum": -0.222, "type": "quantitative", "scale": {"domain": [-0.276, 0.276]}, "axis": {"orient": "right", "labels": false, "title": null}}}}
]}
]},
{"title": {"text": "Giant stars", "dx": 13}, "spacing": 7, "bounds": "flush", "vconcat": [
{"width": 623, "height": 87, "resolve": {"axis": {"x": "independent", "y": "independent"}}, "layer": [
 {"mark": {"type": "rule", "color": "black", "strokeWidth": 1, "strokeDash": [5, 2, 1, 2]}, "encoding": {"y": {"datum": 0, "type": "quantitative", "scale": {"domain": [-0.276, 0.276]}, "axis": null}}},
 {"data": {"name": "spec"}, "transform": [{"filter": "datum.p == 'G1' && datum.c == 'r'"}, {"flatten": ["w", "v"]}], "mark": {"type": "line", "color": "#e8221c", "strokeWidth": 1.1, "interpolate": "monotone", "clip": true}, "encoding": {"x": {"field": "w", "type": "quantitative", "scale": {"domain": [6369.78, 6387.88]}, "axis": {"labels": false, "title": null}}, "y": {"field": "v", "type": "quantitative", "scale": {"domain": [-0.276, 0.276]}, "axis": {"title": "Fobs − Fmod"}}, "detail": {"field": "s", "type": "nominal"}}},
 {"data": {"name": "spec"}, "transform": [{"filter": "datum.p == 'G1' && datum.c == 'b'"}, {"flatten": ["w", "v"]}], "mark": {"type": "line", "color": "#3a78cc", "strokeWidth": 1.1, "opacity": 0.88, "interpolate": "monotone", "clip": true}, "encoding": {"x": {"field": "w", "type": "quantitative", "scale": {"domain": [6369.78, 6387.88]}, "axis": null}, "y": {"field": "v", "type": "quantitative", "scale": {"domain": [-0.276, 0.276]}, "axis": null}}},
 {"data": {"name": "lines"}, "mark": {"type": "rule", "strokeWidth": 1}, "encoding": {"x": {"field": "w", "type": "quantitative", "scale": {"domain": [6369.78, 6387.88]}, "axis": {"orient": "top", "labels": false, "title": null}}, "y": {"datum": 0.11, "type": "quantitative", "scale": {"domain": [-0.276, 0.276]}, "axis": null}, "y2": {"datum": 0.155}, "color": {"field": "k", "type": "nominal", "scale": {"domain": ["o", "g"], "range": ["#f4a460", "#8fd18f"]}, "legend": null}}},
 {"data": {"name": "lines"}, "mark": {"type": "text", "angle": 270, "align": "left", "baseline": "alphabetic", "fontSize": 7.5, "color": "#505050"}, "encoding": {"x": {"field": "w", "type": "quantitative", "scale": {"domain": [6369.78, 6387.88]}, "axis": null}, "y": {"datum": 0.168, "type": "quantitative", "scale": {"domain": [-0.276, 0.276]}, "axis": null}, "text": {"field": "e", "type": "nominal"}}},
 {"data": {"values": [{}]}, "mark": {"type": "text", "align": "left", "baseline": "middle", "fontSize": 12.5, "color": "black", "text": "NGC2682N164_6379"}, "encoding": {"x": {"datum": 6370.7, "type": "quantitative", "scale": {"domain": [6369.78, 6387.88]}, "axis": null}, "y": {"datum": -0.222, "type": "quantitative", "scale": {"domain": [-0.276, 0.276]}, "axis": {"orient": "right", "labels": false, "title": null}}}}
]},
{"width": 623, "height": 87, "resolve": {"axis": {"x": "independent", "y": "independent"}}, "layer": [
 {"mark": {"type": "rule", "color": "black", "strokeWidth": 1, "strokeDash": [5, 2, 1, 2]}, "encoding": {"y": {"datum": 0, "type": "quantitative", "scale": {"domain": [-0.276, 0.276]}, "axis": null}}},
 {"data": {"name": "spec"}, "transform": [{"filter": "datum.p == 'G2' && datum.c == 'r'"}, {"flatten": ["w", "v"]}], "mark": {"type": "line", "color": "#e8221c", "strokeWidth": 1.1, "interpolate": "monotone", "clip": true}, "encoding": {"x": {"field": "w", "type": "quantitative", "scale": {"domain": [6369.78, 6387.88]}, "axis": {"labels": false, "title": null}}, "y": {"field": "v", "type": "quantitative", "scale": {"domain": [-0.276, 0.276]}, "axis": {"title": "Fobs − Fmod"}}, "detail": {"field": "s", "type": "nominal"}}},
 {"data": {"name": "spec"}, "transform": [{"filter": "datum.p == 'G2' && datum.c == 'b'"}, {"flatten": ["w", "v"]}], "mark": {"type": "line", "color": "#3a78cc", "strokeWidth": 1.1, "opacity": 0.88, "interpolate": "monotone", "clip": true}, "encoding": {"x": {"field": "w", "type": "quantitative", "scale": {"domain": [6369.78, 6387.88]}, "axis": null}, "y": {"field": "v", "type": "quantitative", "scale": {"domain": [-0.276, 0.276]}, "axis": null}}},
 {"data": {"name": "lines"}, "mark": {"type": "rule", "strokeWidth": 1}, "encoding": {"x": {"field": "w", "type": "quantitative", "scale": {"domain": [6369.78, 6387.88]}, "axis": {"orient": "top", "labels": false, "title": null}}, "y": {"datum": 0.11, "type": "quantitative", "scale": {"domain": [-0.276, 0.276]}, "axis": null}, "y2": {"datum": 0.155}, "color": {"field": "k", "type": "nominal", "scale": {"domain": ["o", "g"], "range": ["#f4a460", "#8fd18f"]}, "legend": null}}},
 {"data": {"name": "lines"}, "mark": {"type": "text", "angle": 270, "align": "left", "baseline": "alphabetic", "fontSize": 7.5, "color": "#505050"}, "encoding": {"x": {"field": "w", "type": "quantitative", "scale": {"domain": [6369.78, 6387.88]}, "axis": null}, "y": {"datum": 0.168, "type": "quantitative", "scale": {"domain": [-0.276, 0.276]}, "axis": null}, "text": {"field": "e", "type": "nominal"}}},
 {"data": {"values": [{}]}, "mark": {"type": "text", "align": "left", "baseline": "middle", "fontSize": 12.5, "color": "black", "text": "NGC2682N266_6379"}, "encoding": {"x": {"datum": 6370.7, "type": "quantitative", "scale": {"domain": [6369.78, 6387.88]}, "axis": null}, "y": {"datum": -0.222, "type": "quantitative", "scale": {"domain": [-0.276, 0.276]}, "axis": {"orient": "right", "labels": false, "title": null}}}}
]},
{"width": 623, "height": 87, "resolve": {"axis": {"x": "independent", "y": "independent"}}, "layer": [
 {"mark": {"type": "rule", "color": "black", "strokeWidth": 1, "strokeDash": [5, 2, 1, 2]}, "encoding": {"y": {"datum": 0, "type": "quantitative", "scale": {"domain": [-0.276, 0.276]}, "axis": null}}},
 {"data": {"name": "spec"}, "transform": [{"filter": "datum.p == 'G3' && datum.c == 'r'"}, {"flatten": ["w", "v"]}], "mark": {"type": "line", "color": "#e8221c", "strokeWidth": 1.1, "interpolate": "monotone", "clip": true}, "encoding": {"x": {"field": "w", "type": "quantitative", "scale": {"domain": [6369.78, 6387.88]}, "axis": {"labels": false, "title": null}}, "y": {"field": "v", "type": "quantitative", "scale": {"domain": [-0.276, 0.276]}, "axis": {"title": "Fobs − Fmod"}}, "detail": {"field": "s", "type": "nominal"}}},
 {"data": {"name": "spec"}, "transform": [{"filter": "datum.p == 'G3' && datum.c == 'b'"}, {"flatten": ["w", "v"]}], "mark": {"type": "line", "color": "#3a78cc", "strokeWidth": 1.1, "opacity": 0.88, "interpolate": "monotone", "clip": true}, "encoding": {"x": {"field": "w", "type": "quantitative", "scale": {"domain": [6369.78, 6387.88]}, "axis": null}, "y": {"field": "v", "type": "quantitative", "scale": {"domain": [-0.276, 0.276]}, "axis": null}}},
 {"data": {"name": "lines"}, "mark": {"type": "rule", "strokeWidth": 1}, "encoding": {"x": {"field": "w", "type": "quantitative", "scale": {"domain": [6369.78, 6387.88]}, "axis": {"orient": "top", "labels": false, "title": null}}, "y": {"datum": 0.11, "type": "quantitative", "scale": {"domain": [-0.276, 0.276]}, "axis": null}, "y2": {"datum": 0.155}, "color": {"field": "k", "type": "nominal", "scale": {"domain": ["o", "g"], "range": ["#f4a460", "#8fd18f"]}, "legend": null}}},
 {"data": {"name": "lines"}, "mark": {"type": "text", "angle": 270, "align": "left", "baseline": "alphabetic", "fontSize": 7.5, "color": "#505050"}, "encoding": {"x": {"field": "w", "type": "quantitative", "scale": {"domain": [6369.78, 6387.88]}, "axis": null}, "y": {"datum": 0.168, "type": "quantitative", "scale": {"domain": [-0.276, 0.276]}, "axis": null}, "text": {"field": "e", "type": "nominal"}}},
 {"data": {"values": [{}]}, "mark": {"type": "text", "align": "left", "baseline": "middle", "fontSize": 12.5, "color": "black", "text": "NGC6705_No1111_6379"}, "encoding": {"x": {"datum": 6370.7, "type": "quantitative", "scale": {"domain": [6369.78, 6387.88]}, "axis": null}, "y": {"datum": -0.222, "type": "quantitative", "scale": {"domain": [-0.276, 0.276]}, "axis": {"orient": "right", "labels": false, "title": null}}}}
]},
{"width": 623, "height": 87, "resolve": {"axis": {"x": "independent", "y": "independent"}}, "layer": [
 {"mark": {"type": "rule", "color": "black", "strokeWidth": 1, "strokeDash": [5, 2, 1, 2]}, "encoding": {"y": {"datum": 0, "type": "quantitative", "scale": {"domain": [-0.276, 0.276]}, "axis": null}}},
 {"data": {"name": "spec"}, "transform": [{"filter": "datum.p == 'G4' && datum.c == 'r'"}, {"flatten": ["w", "v"]}], "mark": {"type": "line", "color": "#e8221c", "strokeWidth": 1.1, "interpolate": "monotone", "clip": true}, "encoding": {"x": {"field": "w", "type": "quantitative", "scale": {"domain": [6369.78, 6387.88]}, "axis": {"title": "Wavelength (Å)"}}, "y": {"field": "v", "type": "quantitative", "scale": {"domain": [-0.276, 0.276]}, "axis": {"title": "Fobs − Fmod"}}, "detail": {"field": "s", "type": "nominal"}}},
 {"data": {"name": "spec"}, "transform": [{"filter": "datum.p == 'G4' && datum.c == 'b'"}, {"flatten": ["w", "v"]}], "mark": {"type": "line", "color": "#3a78cc", "strokeWidth": 1.1, "opacity": 0.88, "interpolate": "monotone", "clip": true}, "encoding": {"x": {"field": "w", "type": "quantitative", "scale": {"domain": [6369.78, 6387.88]}, "axis": null}, "y": {"field": "v", "type": "quantitative", "scale": {"domain": [-0.276, 0.276]}, "axis": null}}},
 {"data": {"name": "lines"}, "mark": {"type": "rule", "strokeWidth": 1}, "encoding": {"x": {"field": "w", "type": "quantitative", "scale": {"domain": [6369.78, 6387.88]}, "axis": {"orient": "top", "labels": false, "title": null}}, "y": {"datum": 0.11, "type": "quantitative", "scale": {"domain": [-0.276, 0.276]}, "axis": null}, "y2": {"datum": 0.155}, "color": {"field": "k", "type": "nominal", "scale": {"domain": ["o", "g"], "range": ["#f4a460", "#8fd18f"]}, "legend": null}}},
 {"data": {"name": "lines"}, "mark": {"type": "text", "angle": 270, "align": "left", "baseline": "alphabetic", "fontSize": 7.5, "color": "#505050"}, "encoding": {"x": {"field": "w", "type": "quantitative", "scale": {"domain": [6369.78, 6387.88]}, "axis": null}, "y": {"datum": 0.168, "type": "quantitative", "scale": {"domain": [-0.276, 0.276]}, "axis": null}, "text": {"field": "e", "type": "nominal"}}},
 {"data": {"values": [{}]}, "mark": {"type": "text", "align": "left", "baseline": "middle", "fontSize": 12.5, "color": "black", "text": "NGC6705_No1184_6379"}, "encoding": {"x": {"datum": 6370.7, "type": "quantitative", "scale": {"domain": [6369.78, 6387.88]}, "axis": null}, "y": {"datum": -0.222, "type": "quantitative", "scale": {"domain": [-0.276, 0.276]}, "axis": {"orient": "right", "labels": false, "title": null}}}}
]}
]}
],
"config": {
 "font": "Liberation Sans",
 "view": {"stroke": "black", "strokeWidth": 1},
 "title": {"fontSize": 22, "fontWeight": "normal", "font": "Liberation Sans", "color": "black", "anchor": "middle", "offset": 30},
 "text": {"font": "Liberation Sans"},
 "axis": {"grid": false, "domain": false, "tickColor": "black", "tickWidth": 1, "labelColor": "black", "titleColor": "black", "labelFont": "Liberation Sans", "titleFont": "Liberation Sans", "titleFontWeight": "normal", "labelFlush": false, "labelOverlap": false},
 "axisX": {"tickCount": 18, "format": "d", "labelExpr": "datum.value % 5 == 0 ? datum.label : ''", "tickSize": {"condition": {"test": "datum.value % 5 == 0", "value": -8}, "value": -4}, "labelFontSize": 13.5, "labelPadding": 11, "titleFontSize": 13.5, "titlePadding": 3},
 "axisY": {"tickCount": 11, "format": ".1f", "labelExpr": "abs(round(datum.value * 20)) % 2 == 0 ? datum.label : ''", "tickSize": {"condition": {"test": "abs(round(datum.value * 20)) % 2 == 0", "value": -8}, "value": -4}, "labelFontSize": 13.5, "labelPadding": 12, "titleFontSize": 14, "titlePadding": 10}
}
}
